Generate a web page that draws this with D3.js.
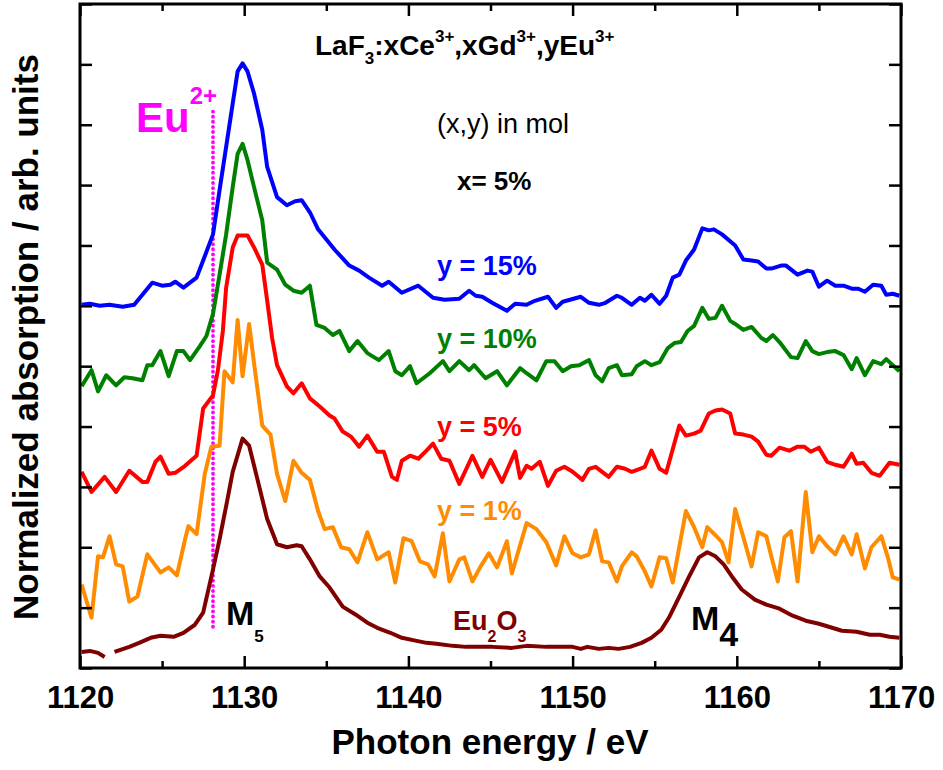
<!DOCTYPE html>
<html lang="en">
<head>
<meta charset="utf-8">
<style>
  body { margin: 0; background: #fff; }
  svg { font-family: "Liberation Sans", Arial, sans-serif; }
  .frame { fill: none; stroke: #000; stroke-width: 3; }
  .axis path { display: none; }
  .axis line { stroke: #000; stroke-width: 2.5; }
  .axis text { font-size: 31px; font-weight: bold; fill: #000; }
  .curve { fill: none; stroke-width: 4; stroke-linejoin: round; }
</style>
</head>
<body>
<svg width="943" height="770"></svg>
<script src="https://d3js.org/d3.v7.min.js"></script>
<script>
// spectra: [photon energy (eV), absorption (arb. units, offset)]
const y15 = [[1120.1,361],[1120.6,362],[1121.2,360],[1121.8,361],[1122.6,359],[1123.3,361],[1123.8,371],[1124.4,383],[1125.0,380],[1125.5,381],[1125.8,384],[1126.3,378],[1127.1,388],[1127.5,405],[1128.1,431],[1128.5,475],[1128.9,518],[1129.3,561],[1129.6,593],[1129.9,601],[1130.2,593],[1130.6,571],[1131.1,535],[1131.4,498],[1132.0,468],[1132.6,460],[1133.1,464],[1133.5,465],[1134.0,453],[1134.5,436],[1135.5,416],[1136.4,400],[1137.0,395],[1137.6,388],[1138.4,380],[1138.8,384],[1139.6,373],[1140.6,380],[1141.5,368],[1142.2,366],[1143.1,367],[1143.7,375],[1144.1,370],[1144.5,369],[1145.1,363],[1146.0,355],[1146.5,362],[1147.2,361],[1147.7,365],[1148.5,369],[1149.0,358],[1149.4,364],[1150.5,369],[1151.0,363],[1151.6,361],[1152.0,363],[1152.7,370],[1153.0,368],[1153.6,361],[1154.1,368],[1154.4,365],[1154.8,371],[1155.3,362],[1155.7,370],[1156.1,388],[1156.5,391],[1156.9,405],[1157.4,416],[1157.9,437],[1158.3,435],[1158.6,436],[1159.1,431],[1159.9,420],[1160.4,406],[1160.9,405],[1161.3,404],[1161.8,397],[1162.1,397],[1162.7,400],[1163.0,400],[1163.7,391],[1164.3,395],[1164.6,394],[1165.0,379],[1165.5,385],[1166.0,380],[1166.5,380],[1167.0,377],[1167.4,377],[1167.8,374],[1168.3,381],[1168.8,380],[1169.1,371],[1169.5,372],[1169.9,370]];

const y10 = [[1120.1,280],[1120.7,296],[1121.1,275],[1121.6,291],[1122.2,281],[1122.7,289],[1123.2,288],[1123.8,286],[1124.1,301],[1124.4,301],[1124.9,315],[1125.4,290],[1125.9,315],[1126.3,315],[1126.7,306],[1127.3,320],[1127.7,330],[1128.1,352],[1128.5,391],[1128.9,431],[1129.3,478],[1129.6,511],[1129.9,521],[1130.2,505],[1130.6,478],[1131.1,445],[1131.4,403],[1132.0,396],[1132.5,381],[1133.0,375],[1133.5,373],[1134.0,380],[1134.4,341],[1134.9,338],[1135.4,331],[1135.8,335],[1136.4,315],[1136.9,325],[1137.5,313],[1138.2,306],[1138.8,315],[1139.2,295],[1139.6,291],[1140.1,300],[1140.5,283],[1141.3,293],[1142.1,305],[1142.5,295],[1143.1,305],[1143.7,296],[1144.0,301],[1144.7,288],[1145.4,295],[1146.0,281],[1146.8,298],[1147.2,293],[1147.8,286],[1148.4,305],[1148.9,305],[1149.4,295],[1149.9,300],[1150.4,301],[1151.0,306],[1151.4,291],[1151.8,285],[1152.2,298],[1152.7,301],[1153.0,291],[1153.6,292],[1153.9,300],[1154.4,305],[1154.8,301],[1155.3,304],[1155.8,318],[1156.2,323],[1156.6,324],[1157.0,335],[1157.4,340],[1157.9,358],[1158.3,347],[1158.7,348],[1159.1,360],[1159.6,345],[1159.9,342],[1160.4,336],[1160.9,339],[1161.5,328],[1161.8,325],[1162.2,331],[1162.6,324],[1163.3,309],[1163.7,308],[1164.2,325],[1164.6,315],[1165.0,312],[1165.5,314],[1166.0,315],[1166.5,311],[1167.0,297],[1167.3,308],[1167.8,291],[1168.3,305],[1168.8,302],[1169.1,307],[1169.9,295]];

const y5 = [[1120.1,195],[1120.7,175],[1121.5,190],[1122.2,175],[1123.0,196],[1123.8,185],[1124.1,185],[1124.6,205],[1124.9,210],[1125.4,193],[1125.8,194],[1126.4,201],[1127.1,211],[1127.5,258],[1128.1,271],[1128.4,296],[1128.7,335],[1128.9,378],[1129.3,418],[1129.6,430],[1130.2,430],[1130.6,418],[1131.1,401],[1131.4,365],[1131.7,328],[1132.0,301],[1132.6,280],[1133.0,273],[1133.5,283],[1134.0,268],[1134.6,260],[1135.2,251],[1135.5,248],[1136.0,235],[1136.5,230],[1137.0,220],[1137.5,231],[1138.1,215],[1138.5,215],[1139.0,190],[1139.3,187],[1139.6,206],[1140.1,211],[1140.6,208],[1141.1,216],[1141.5,223],[1142.0,208],[1142.5,206],[1143.1,183],[1143.9,211],[1144.5,190],[1145.0,207],[1145.7,185],[1146.5,215],[1146.8,189],[1147.2,201],[1147.5,198],[1148.0,205],[1148.5,181],[1149.0,196],[1149.5,200],[1150.0,195],[1150.6,187],[1151.0,198],[1151.4,200],[1152.2,190],[1152.7,200],[1153.2,198],[1153.6,195],[1154.1,198],[1154.4,200],[1154.8,216],[1155.3,198],[1155.7,194],[1156.5,241],[1156.9,231],[1157.4,233],[1157.8,236],[1158.3,253],[1158.7,256],[1159.1,257],[1159.6,253],[1159.9,233],[1160.4,232],[1160.9,230],[1161.3,225],[1161.8,212],[1162.1,211],[1162.6,219],[1163.2,216],[1163.7,220],[1164.1,220],[1164.5,215],[1165.0,219],[1165.5,205],[1166.0,202],[1166.5,200],[1167.0,213],[1167.3,203],[1167.7,204],[1168.2,194],[1168.7,191],[1169.3,204],[1169.9,202]];

const y1 = [[1120.1,83],[1120.7,50],[1121.1,111],[1121.4,110],[1121.8,131],[1122.2,103],[1122.6,101],[1123.0,66],[1123.5,71],[1124.1,113],[1124.9,95],[1125.4,100],[1125.9,92],[1126.4,128],[1126.6,141],[1127.1,133],[1127.6,193],[1128.0,220],[1128.5,221],[1128.8,295],[1129.3,284],[1129.6,346],[1129.9,290],[1130.3,342],[1130.6,303],[1131.1,241],[1131.6,232],[1132.0,193],[1132.5,166],[1133.0,206],[1133.5,194],[1134.0,187],[1134.5,156],[1134.9,138],[1135.4,140],[1135.9,120],[1136.4,118],[1136.9,105],[1137.5,135],[1138.1,108],[1138.8,115],[1139.2,85],[1139.7,129],[1140.2,126],[1140.7,106],[1141.2,103],[1141.6,91],[1142.1,134],[1142.5,86],[1143.1,108],[1143.4,110],[1143.9,86],[1144.4,101],[1144.9,114],[1145.4,100],[1146.0,126],[1146.3,94],[1147.2,144],[1147.8,138],[1148.4,125],[1149.0,102],[1149.5,131],[1150.0,114],[1150.5,110],[1151.0,113],[1151.4,137],[1151.8,106],[1152.2,105],[1152.7,86],[1153.0,101],[1153.6,115],[1153.9,111],[1154.4,96],[1154.8,81],[1155.3,110],[1155.7,109],[1156.1,85],[1156.9,156],[1157.4,140],[1157.9,120],[1158.2,140],[1158.7,132],[1159.1,125],[1159.5,105],[1159.9,158],[1160.4,130],[1160.9,101],[1161.3,135],[1161.8,131],[1162.1,111],[1162.5,86],[1162.9,130],[1163.3,136],[1163.7,86],[1164.2,175],[1164.6,115],[1165.0,131],[1165.5,121],[1166.0,113],[1166.5,131],[1167.0,113],[1167.3,133],[1167.8,99],[1168.2,120],[1168.8,131],[1169.2,110],[1169.5,90],[1169.9,88]];

// Eu2O3 reference (gap in the measured data near 1122 eV)
const eu2o3 = [[1120.1,16],[1120.6,17],[1121.1,15],[1121.5,11],[1121.8,null],[1122.1,16],[1123.0,21],[1123.6,25],[1124.3,30],[1124.9,32],[1125.7,31],[1126.3,35],[1127.0,43],[1127.5,55],[1128.1,98],[1128.5,128],[1128.9,161],[1129.3,195],[1129.9,228],[1130.3,221],[1130.8,188],[1131.4,148],[1132.0,123],[1132.6,120],[1133.2,122],[1133.5,121],[1134.0,108],[1134.6,91],[1135.2,80],[1136.0,61],[1136.8,53],[1137.5,45],[1138.1,40],[1138.9,35],[1139.6,30],[1140.5,27],[1141.1,25],[1141.7,24],[1142.7,22],[1143.5,21],[1144.3,21],[1145.1,21],[1146.3,20],[1147.2,22],[1148.4,21],[1149.2,21],[1150.0,21],[1150.5,19],[1150.9,21],[1151.6,19],[1152.2,20],[1152.8,19],[1153.5,21],[1154.2,25],[1154.8,30],[1155.4,38],[1155.9,51],[1156.5,71],[1157.1,91],[1157.7,110],[1158.2,115],[1158.7,111],[1159.2,103],[1159.7,91],[1160.3,78],[1161.1,68],[1161.8,63],[1162.6,59],[1163.4,52],[1164.2,47],[1165.0,44],[1165.8,40],[1166.4,37],[1167.3,36],[1168.1,33],[1168.7,33],[1169.3,31],[1169.9,30]];

const seriesNames = ["y = 15%", "y = 10%", "y = 5%", "y = 1%", "Eu2O3"];
const seriesColors = ["#0000ff", "#008000", "#ff0000", "#ff8c00", "#800000"];
const seriesData = [y15, y10, y5, y1, eu2o3];

const xMajor = [1120, 1130, 1140, 1150, 1160, 1170];
const xMinor = [1125, 1135, 1145, 1155, 1165];
const yTicks = d3.range(0, 661, 60);
const eu2Marker = [1128.1, 41, 556];   // energy, bottom, top of dotted line

const svg = d3.select("svg");
const L = 80, R = 901, T = 4, B = 668;

const x = d3.scaleLinear().domain([1120, 1170]).range([L, R]);
const y = d3.scaleLinear().domain([0, 660]).range([B, T]);

svg.append("clipPath").attr("id", "clip")
  .append("rect").attr("x", L).attr("y", T).attr("width", R - L).attr("height", B - T);

const line = d3.line()
  .defined(d => d[1] != null)
  .x(d => x(d[0]))
  .y(d => y(d[1]));

const plot = svg.append("g").attr("clip-path", "url(#clip)");

// dotted Eu2+ marker
plot.append("line")
  .attr("x1", x(eu2Marker[0])).attr("x2", x(eu2Marker[0]))
  .attr("y1", y(eu2Marker[1])).attr("y2", y(eu2Marker[2]))
  .attr("stroke", "#ff00ff").attr("stroke-width", 3.8)
  .attr("stroke-linecap", "round").attr("stroke-dasharray", "0.1 5");

plot.selectAll("path.curve")
  .data(seriesData.slice().reverse())
  .enter().append("path")
    .attr("class", "curve")
    .attr("stroke", (d, i) => seriesColors[seriesColors.length - 1 - i])
    .attr("d", line);

// axes, ticks pointing inward on all four sides
svg.append("g").attr("class", "axis").attr("transform", `translate(0,${B})`)
  .call(d3.axisBottom(x).tickValues(xMajor).tickSize(-12).tickPadding(18).tickFormat(d3.format("d")));
svg.append("g").attr("class", "axis").attr("transform", `translate(0,${B})`)
  .call(d3.axisBottom(x).tickValues(xMinor).tickSize(-7).tickFormat(""));
svg.append("g").attr("class", "axis").attr("transform", `translate(0,${T})`)
  .call(d3.axisTop(x).tickValues(xMajor).tickSize(-12).tickFormat(""));
svg.append("g").attr("class", "axis").attr("transform", `translate(0,${T})`)
  .call(d3.axisTop(x).tickValues(xMinor).tickSize(-7).tickFormat(""));
svg.append("g").attr("class", "axis").attr("transform", `translate(${L},0)`)
  .call(d3.axisLeft(y).tickValues(yTicks).tickSize(-12).tickFormat(""));
svg.append("g").attr("class", "axis").attr("transform", `translate(${R},0)`)
  .call(d3.axisRight(y).tickValues(yTicks).tickSize(-12).tickFormat(""));

svg.append("rect").attr("class", "frame")
  .attr("x", L).attr("y", T).attr("width", R - L).attr("height", B - T);

// axis titles
svg.append("text")
  .attr("x", 490).attr("y", 754)
  .attr("text-anchor", "middle")
  .style("font-size", "35px").style("font-weight", "bold")
  .text("Photon energy / eV");
svg.append("text")
  .attr("transform", "translate(38,337) rotate(-90)")
  .attr("text-anchor", "middle")
  .style("font-size", "35px").style("font-weight", "bold")
  .text("Normalized absorption / arb. units");

// annotations
function rich(parent, px, py, size, color, parts, weight) {
  const t = parent.append("text")
    .attr("x", px).attr("y", py)
    .style("font-size", size + "px")
    .style("font-weight", weight || "bold")
    .attr("fill", color);
  parts.forEach(p => {
    const s = t.append("tspan").text(p[0]);
    if (p[1]) s.style("font-size", p[1] + "px");
    if (p[2]) s.attr("dy", p[2]);
  });
  return t;
}

rich(svg, 315, 55, 28, "#000", [
  ["LaF"], ["3", 17, 9], [":xCe", null, -9], ["3+", 17, -13], [",xGd", null, 13],
  ["3+", 17, -13], [",yEu", null, 13], ["3+", 17, -13]
]);
rich(svg, 437, 133, 27, "#000", [["(x,y) in mol"]], "normal");
rich(svg, 457, 190, 26, "#000", [["x= 5%"]]);

const labelPos = [[437, 275], [437, 348], [437, 436], [437, 520]];
labelPos.forEach((p, i) => rich(svg, p[0], p[1], 27, seriesColors[i], [[seriesNames[i]]]));

rich(svg, 453, 630, 27, seriesColors[4], [["Eu"], ["2", 16, 12], ["O", null, -12], ["3", 16, 12]]);

rich(svg, 136, 132, 42, "#ff00ff", [["Eu"], ["2+", 24, -28]]);

rich(svg, 226, 625, 34, "#000", [["M"], ["5", 17, 17]]);
rich(svg, 691, 630, 34, "#000", [["M"], ["4", 34, 16]]);
</script>
</body>
</html>
